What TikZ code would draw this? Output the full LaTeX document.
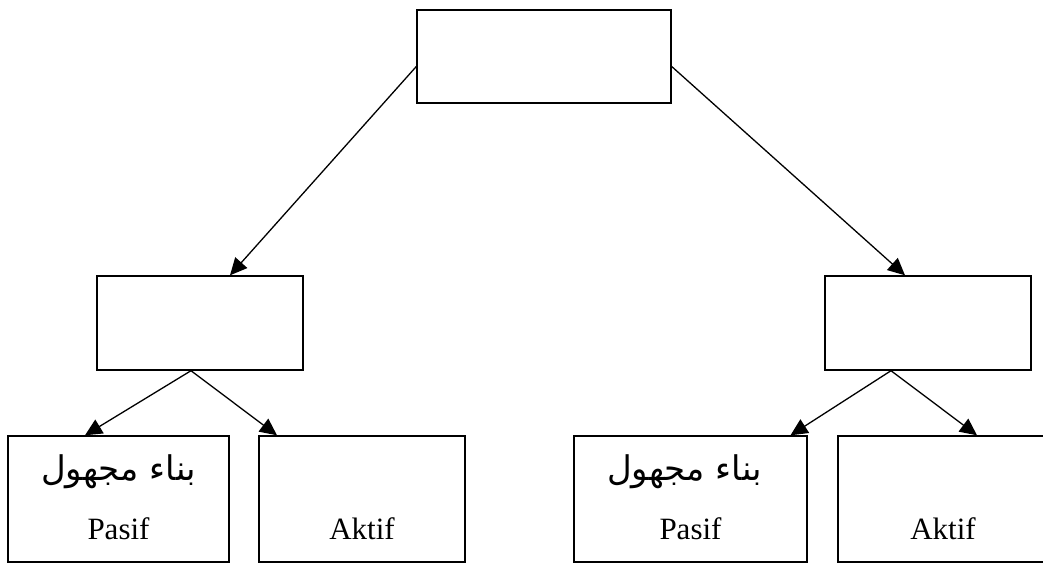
\documentclass[tikz,border=0pt]{standalone}
\usepackage{fontspec}
\setmainfont{Liberation Serif}
\newfontfamily\arabicfont[Script=Arabic]{DejaVu Sans}
\TeXXeTstate=1
\usetikzlibrary{arrows.meta, positioning, calc}

\begin{document}
\begin{tikzpicture}[x=1pt, y=1pt,
    box/.style={rectangle, draw, line width=1.4pt, inner sep=0pt},
    arr/.style={-{Triangle[length=17pt, width=16pt]}, line width=1.3pt},
    lbl/.style={font=\fontsize{31}{36}\selectfont, anchor=base, inner sep=0pt},
    arab/.style={font=\arabicfont\fontsize{34}{40}\selectfont, anchor=base, inner sep=0pt},
]
\useasboundingbox (0,0) rectangle (1043,563);
\clip (0,0) rectangle (1043,563);

% Top level
\node[box, minimum width=254pt, minimum height=93pt] (top) at (544,506.5) {};

% Middle level
\node[box, minimum width=206pt, minimum height=94pt] (lmid) at (200,240) {};
\node[box, minimum width=206pt, minimum height=94pt] (rmid) at (928,240) {};

% Bottom level
\node[box, minimum width=221pt, minimum height=126pt] (lpas) at (118.5,64) {};
\node[box, minimum width=206pt, minimum height=126pt] (lakt) at (362,64) {};
\node[box, minimum width=233pt, minimum height=126pt] (rpas) at (690.5,64) {};
\node[box, minimum width=210pt, minimum height=126pt] (rakt) at (943,64) {};

% Labels
\node[arab] (lpasar) at ([yshift=82pt]lpas.south) {\beginR بناء مجهول\endR};
\node[lbl] (lpastx) at ([yshift=23pt]lpas.south) {Pasif};
\node[lbl] (lakttx) at ([yshift=23pt]lakt.south) {Aktif};
\node[arab] (rpasar) at ([xshift=-6pt, yshift=82pt]rpas.south) {\beginR بناء مجهول\endR};
\node[lbl] (rpastx) at ([yshift=23pt]rpas.south) {Pasif};
\node[lbl] (rakttx) at ([yshift=23pt]rakt.south) {Aktif};

% Connectors
\draw[arr] ([yshift=-10pt]top.west) -- ([xshift=30pt]lmid.north);
\draw[arr] ([yshift=-10pt]top.east) -- ([xshift=-23pt]rmid.north);

\draw[arr] ([xshift=-9pt]lmid.south) -- ([xshift=-33.5pt]lpas.north);
\draw[arr] ([xshift=-9pt]lmid.south) -- ([xshift=-85pt]lakt.north);
\draw[arr] ([xshift=-37pt]rmid.south) -- ([xshift=100pt]rpas.north);
\draw[arr] ([xshift=-37pt]rmid.south) -- ([xshift=34pt]rakt.north);

\end{tikzpicture}
\end{document}
